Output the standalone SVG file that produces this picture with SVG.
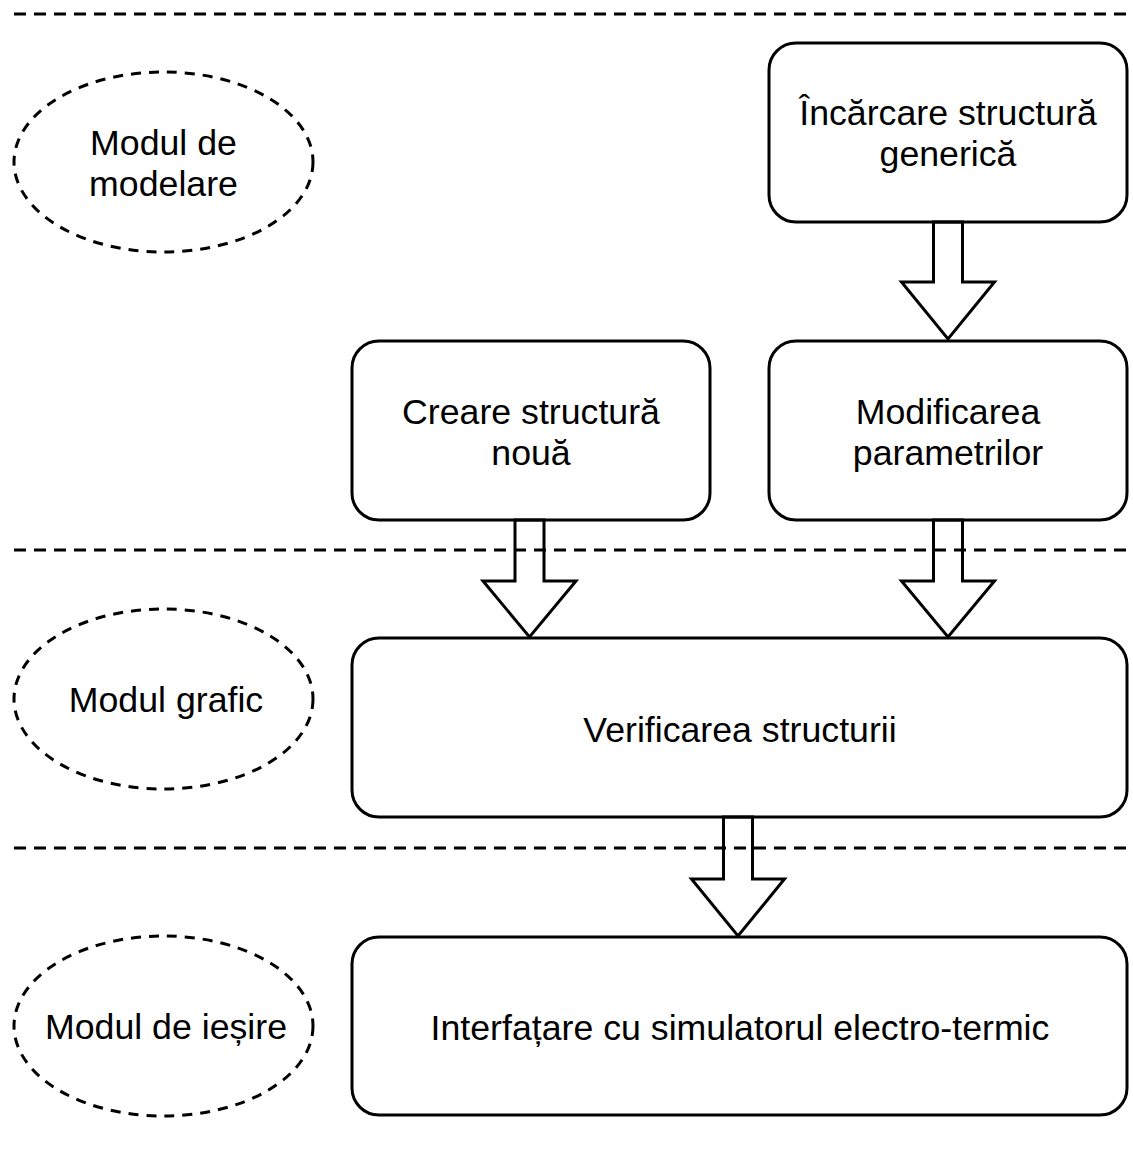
<svg xmlns="http://www.w3.org/2000/svg" width="1133" height="1173" viewBox="0 0 1133 1173">
  <style>
    .sep { stroke: #000; stroke-width: 3; stroke-dasharray: 12 8; fill: none; }
    .mod { stroke: #000; stroke-width: 3; stroke-dasharray: 10 8; fill: #fff; }
    .box { stroke: #000; stroke-width: 3; fill: #fff; }
    .arrow { stroke: #000; stroke-width: 3; fill: none; stroke-linejoin: miter; }
    text { font-family: "Liberation Sans", Arial, sans-serif; font-size: 35.7px; fill: #000; text-anchor: middle; }
  </style>
  <rect width="1133" height="1173" fill="#fff"/>

  <!-- section separators -->
  <g id="separators">
    <line class="sep" x1="14" y1="14" x2="1133" y2="14"/>
    <line class="sep" x1="14" y1="550" x2="1133" y2="550"/>
    <line class="sep" x1="14" y1="848" x2="1133" y2="848"/>
  </g>

  <!-- module labels -->
  <g id="mod-modelare">
    <ellipse class="mod" cx="163.5" cy="162" rx="149.5" ry="90"/>
    <text x="163.5" y="155">Modul de</text>
    <text x="163.5" y="196">modelare</text>
  </g>
  <g id="mod-grafic">
    <ellipse class="mod" cx="163.5" cy="699" rx="149.5" ry="90"/>
    <text x="166" y="712">Modul grafic</text>
  </g>
  <g id="mod-iesire">
    <ellipse class="mod" cx="163.5" cy="1026" rx="149.5" ry="90"/>
    <text x="166" y="1039">Modul de ieșire</text>
  </g>

  <!-- process boxes -->
  <g id="incarcare">
    <rect class="box" x="769" y="43" width="358" height="179" rx="27" ry="27"/>
    <text x="948" y="125">Încărcare structură</text>
    <text x="948" y="166">generică</text>
  </g>
  <g id="creare">
    <rect class="box" x="352" y="341" width="358" height="179" rx="27" ry="27"/>
    <text x="531" y="424">Creare structură</text>
    <text x="531" y="465">nouă</text>
  </g>
  <g id="modificare">
    <rect class="box" x="769" y="341" width="358" height="179" rx="27" ry="27"/>
    <text x="948" y="424">Modificarea</text>
    <text x="948" y="465">parametrilor</text>
  </g>
  <g id="verificare">
    <rect class="box" x="352" y="638" width="775" height="179" rx="27" ry="27"/>
    <text x="740" y="742">Verificarea structurii</text>
  </g>
  <g id="interfatare">
    <rect class="box" x="352" y="937" width="775" height="178" rx="27" ry="27"/>
    <text x="740" y="1040">Interfațare cu simulatorul electro-termic</text>
  </g>

  <!-- block arrows -->
  <g id="connectors">
    <polygon class="arrow" points="933.5,222 962.5,222 962.5,282 994.5,282 948,339 901.5,282 933.5,282"/>
    <polygon class="arrow" points="515,520 544,520 544,581 576,581 529.5,637 483,581 515,581"/>
    <polygon class="arrow" points="933.5,520 962.5,520 962.5,581 994.5,581 948,637 901.5,581 933.5,581"/>
    <polygon class="arrow" points="723.5,817 752.5,817 752.5,879 784.5,879 738,936 691.5,879 723.5,879"/>
  </g>
</svg>
